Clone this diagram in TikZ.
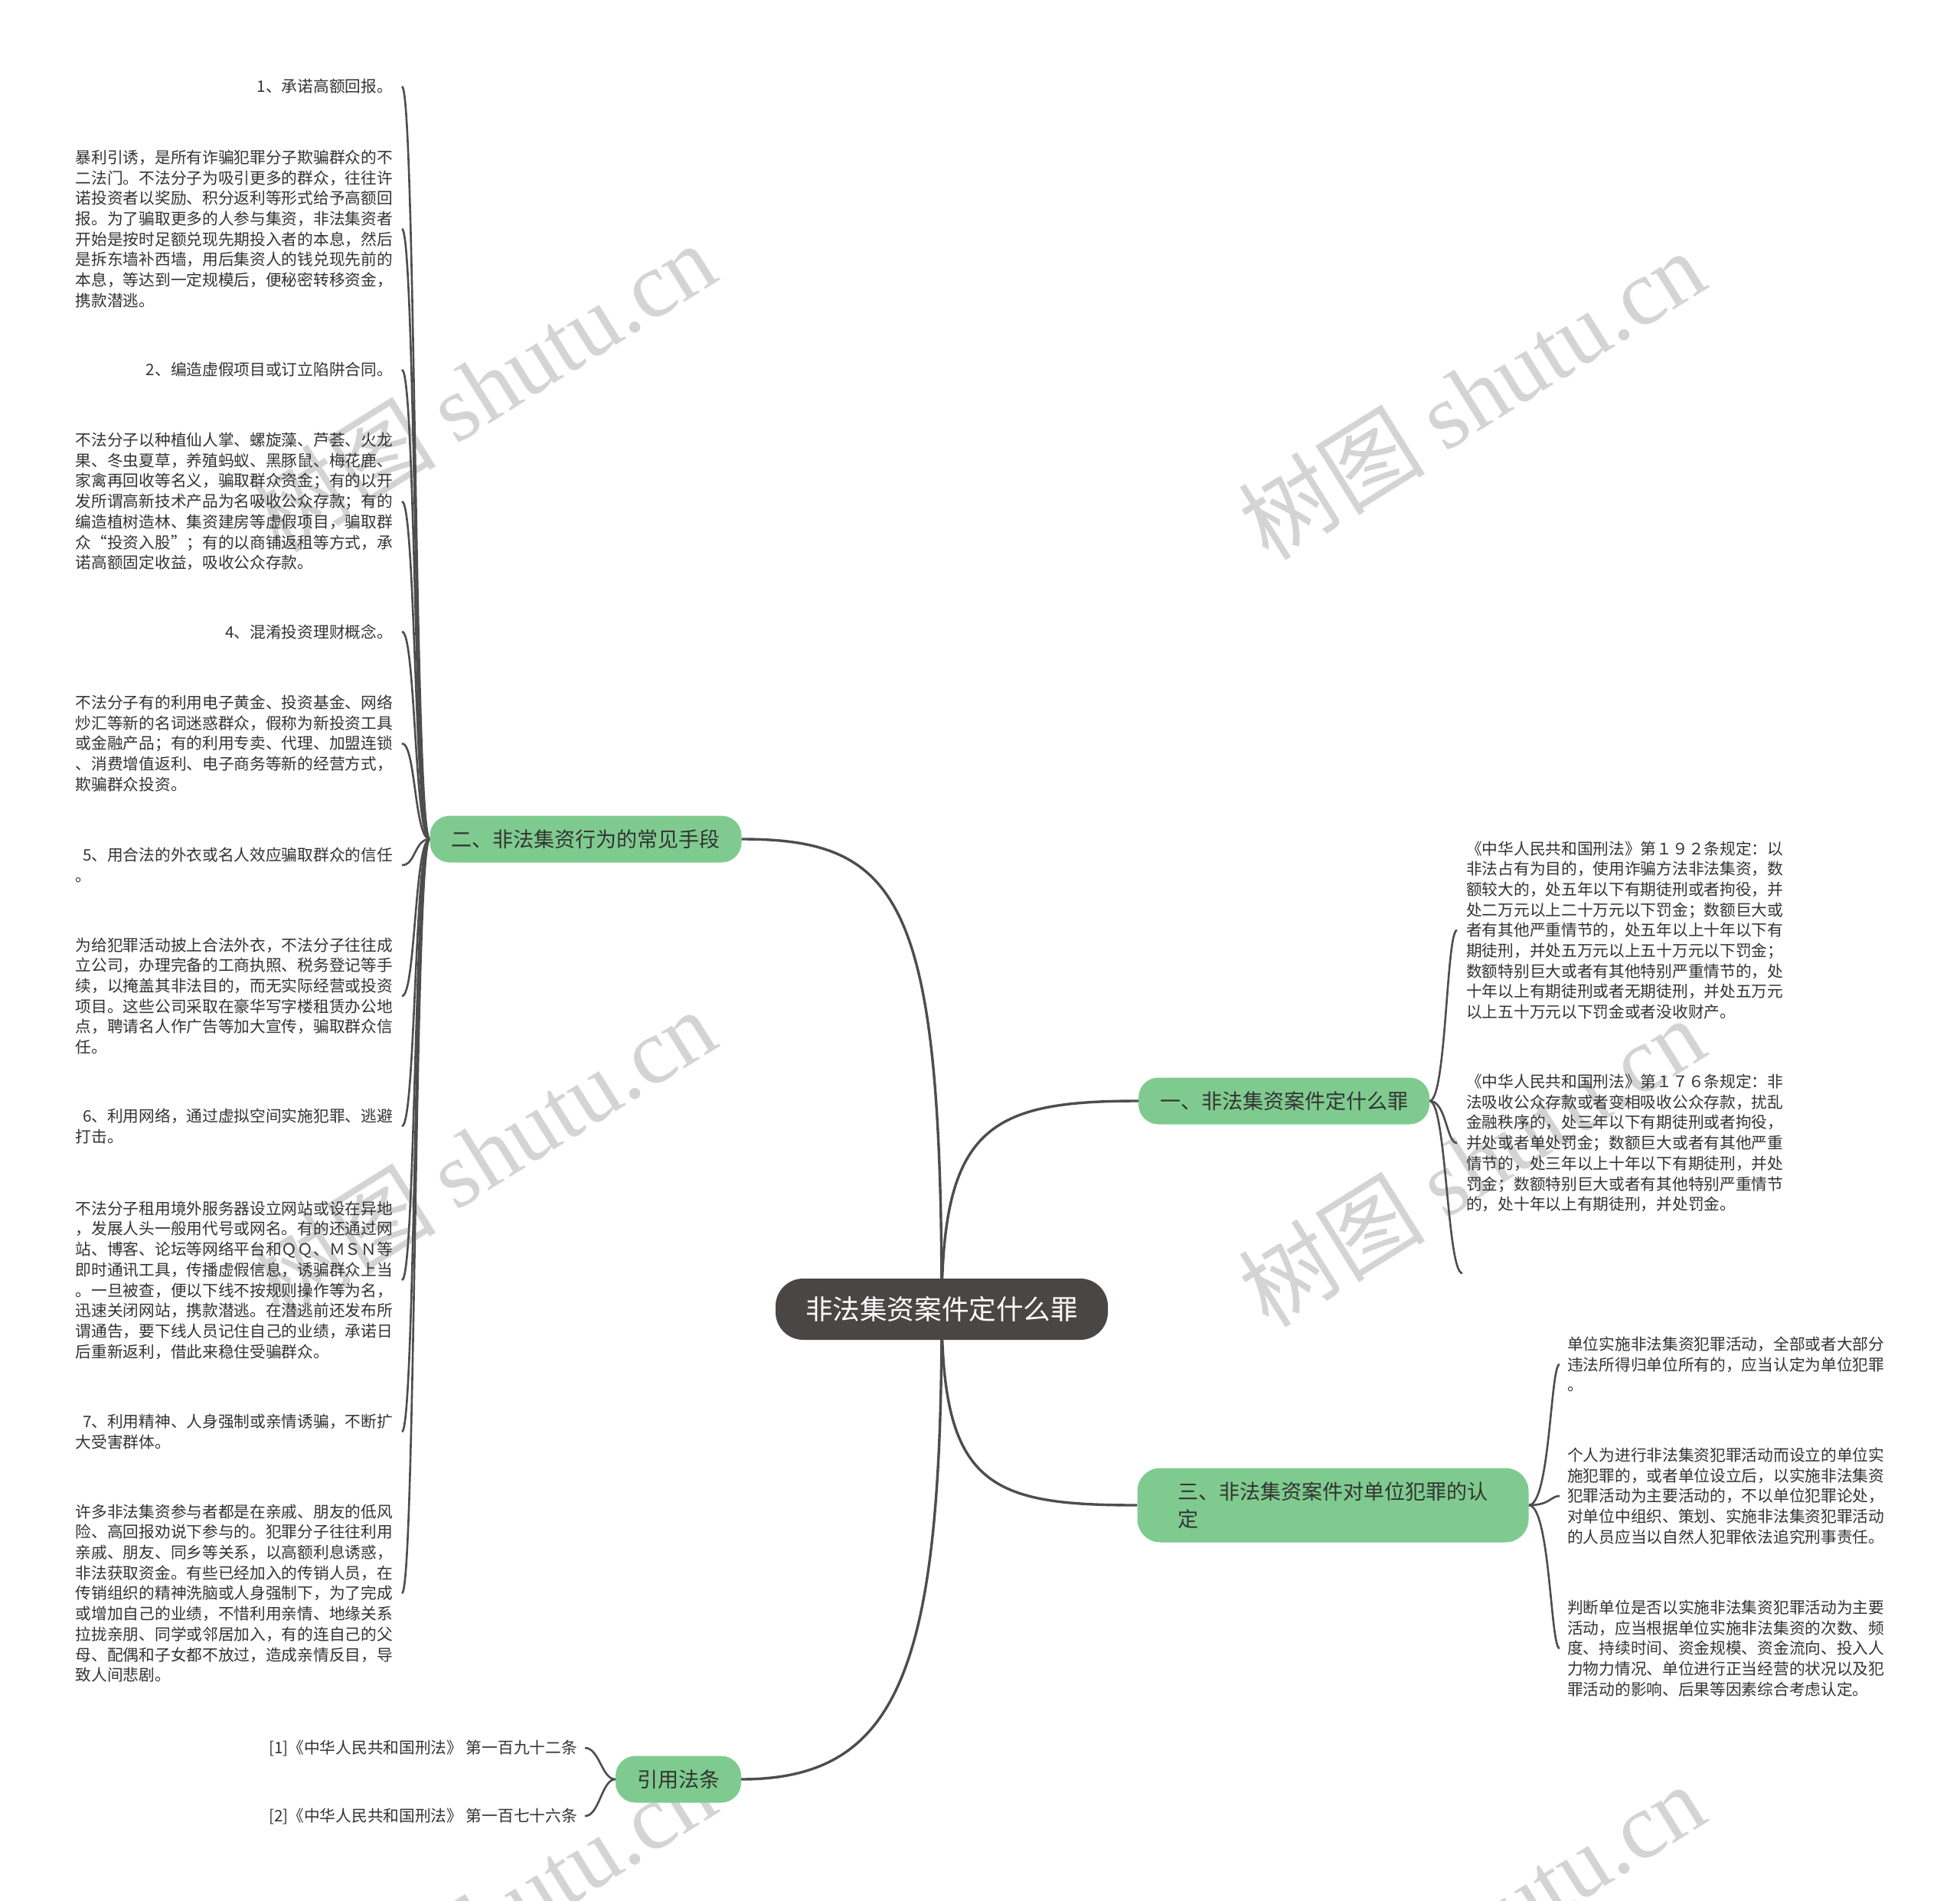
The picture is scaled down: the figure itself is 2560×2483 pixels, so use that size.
\documentclass[tikz,border=0pt]{standalone}
\usepackage{fontspec}
\setmainfont{Noto Sans CJK SC}
\newfontfamily\wmserif{Liberation Serif}
\definecolor{mmgreen}{HTML}{7FCB8F}
\definecolor{mmdark}{HTML}{4A4646}
\definecolor{mmline}{HTML}{4D4D4D}
\definecolor{mmtext}{HTML}{333333}
\definecolor{mmwm}{HTML}{D4D4D4}
\pgfdeclarelayer{wm}
\pgfdeclarelayer{bg}
\pgfsetlayers{wm,bg,main}
\begin{document}
\begin{tikzpicture}[x=1pt,y=-1pt,
  leaffont/.style={font=\fontsize{20.7}{26.7}\selectfont},
  leaf/.style={leaffont, text=mmtext, inner xsep=12pt, inner ysep=0pt, align=left},
  lleaf/.style={leaf, anchor=east},
  rleaf/.style={leaf, anchor=west},
  rootnode/.style={fill=mmdark, text=white, rounded corners=36pt, minimum height=80pt, inner xsep=39pt, inner ysep=0pt, font=\fontsize{35.6}{40}\selectfont},
  branchnode/.style={fill=mmgreen, text=mmtext, rounded corners=26pt, minimum height=61pt, inner xsep=28pt, inner ysep=0pt, font=\fontsize{27}{36}\selectfont},
  mainline/.style={draw=mmline, line width=3.4pt},
  leafline/.style={draw=mmline, line width=2.6pt},
  wmark/.style={rotate=32, text=mmwm, font=\fontsize{122}{122}\selectfont, inner sep=0pt}
]
\useasboundingbox (0,0) rectangle (2560,2483);

% background and watermarks
\begin{pgfonlayer}{wm}
\fill[white] (0,0) rectangle (2560,2483);
\begin{scope}
\clip (0,0) rectangle (2560,2483);
\foreach \wx/\wy [count=\i] in {630/505, 1922/515, 630/1506, 1922/1517, 630/2506, 1922/2518}
  \node[wmark] (wm\i) at (\wx,\wy) {树图 {\wmserif shutu.cn}};
\end{scope}
\end{pgfonlayer}

% main nodes
\node[rootnode] (root) at (1230,1710) {非法集资案件定什么罪};
\node[branchnode] (b2) at (765,1096) {二、非法集资行为的常见手段};
\node[branchnode] (b1) at (1677,1438) {一、非法集资案件定什么罪};
\node[branchnode, align=left, inner xsep=53pt, minimum height=97pt, rounded corners=30pt] (b3) at (1741,1966) {三、非法集资案件对单位犯罪的认\\定};
\node[branchnode] (b4) at (886,2324) {引用法条};

% left leaves
\node[lleaf] (l1) at (525,113) {1、承诺高额回报。};
\node[lleaf] (l2) at (525,299) {暴利引诱，是所有诈骗犯罪分子欺骗群众的不\\二法门。不法分子为吸引更多的群众，往往许\\诺投资者以奖励、积分返利等形式给予高额回\\报。为了骗取更多的人参与集资，非法集资者\\开始是按时足额兑现先期投入者的本息，然后\\是拆东墙补西墙，用后集资人的钱兑现先前的\\本息，等达到一定规模后，便秘密转移资金，\\携款潜逃。};
\node[lleaf] (l3) at (525,483) {2、编造虚假项目或订立陷阱合同。};
\node[lleaf] (l4) at (525,655) {不法分子以种植仙人掌、螺旋藻、芦荟、火龙\\果、冬虫夏草，养殖蚂蚁、黑豚鼠、梅花鹿、\\家禽再回收等名义，骗取群众资金；有的以开\\发所谓高新技术产品为名吸收公众存款；有的\\编造植树造林、集资建房等虚假项目，骗取群\\众“投资入股”；有的以商铺返租等方式，承\\诺高额固定收益，吸收公众存款。};
\node[lleaf] (l5) at (525,825) {4、混淆投资理财概念。};
\node[lleaf] (l6) at (525,971) {不法分子有的利用电子黄金、投资基金、网络\\炒汇等新的名词迷惑群众，假称为新投资工具\\或金融产品；有的利用专卖、代理、加盟连锁\\、消费增值返利、电子商务等新的经营方式，\\欺骗群众投资。};
\node[lleaf] (l7) at (525,1130) {\makebox[414pt][r]{5、用合法的外衣或名人效应骗取群众的信任}\\。};
\node[lleaf] (l8) at (525,1301) {为给犯罪活动披上合法外衣，不法分子往往成\\立公司，办理完备的工商执照、税务登记等手\\续，以掩盖其非法目的，而无实际经营或投资\\项目。这些公司采取在豪华写字楼租赁办公地\\点，聘请名人作广告等加大宣传，骗取群众信\\任。};
\node[lleaf] (l9) at (525,1471) {\makebox[414pt][r]{6、利用网络，通过虚拟空间实施犯罪、逃避}\\打击。};
\node[lleaf] (l10) at (525,1672) {不法分子租用境外服务器设立网站或设在异地\\，发展人头一般用代号或网名。有的还通过网\\站、博客、论坛等网络平台和ＱＱ、ＭＳＮ等\\即时通讯工具，传播虚假信息，诱骗群众上当\\。一旦被查，便以下线不按规则操作等为名，\\迅速关闭网站，携款潜逃。在潜逃前还发布所\\谓通告，要下线人员记住自己的业绩，承诺日\\后重新返利，借此来稳住受骗群众。};
\node[lleaf] (l11) at (525,1870) {\makebox[414pt][r]{7、利用精神、人身强制或亲情诱骗，不断扩}\\大受害群体。};
\node[lleaf] (l12) at (525,2081) {许多非法集资参与者都是在亲戚、朋友的低风\\险、高回报劝说下参与的。犯罪分子往往利用\\亲戚、朋友、同乡等关系，以高额利息诱惑，\\非法获取资金。有些已经加入的传销人员，在\\传销组织的精神洗脑或人身强制下，为了完成\\或增加自己的业绩，不惜利用亲情、地缘关系\\拉拢亲朋、同学或邻居加入，有的连自己的父\\母、配偶和子女都不放过，造成亲情反目，导\\致人间悲剧。};

% right top leaves
\node[rleaf] (r1) at (1903,1215) {《中华人民共和国刑法》第１９２条规定：以\\非法占有为目的，使用诈骗方法非法集资，数\\额较大的，处五年以下有期徒刑或者拘役，并\\处二万元以上二十万元以下罚金；数额巨大或\\者有其他严重情节的，处五年以上十年以下有\\期徒刑，并处五万元以上五十万元以下罚金；\\数额特别巨大或者有其他特别严重情节的，处\\十年以上有期徒刑或者无期徒刑，并处五万元\\以上五十万元以下罚金或者没收财产。};
\node[rleaf] (r2) at (1903,1493) {《中华人民共和国刑法》第１７６条规定：非\\法吸收公众存款或者变相吸收公众存款，扰乱\\金融秩序的，处三年以下有期徒刑或者拘役，\\并处或者单处罚金；数额巨大或者有其他严重\\情节的，处三年以上十年以下有期徒刑，并处\\罚金；数额特别巨大或者有其他特别严重情节\\的，处十年以上有期徒刑，并处罚金。};
\coordinate (r3) at (1910,1663);

% right bottom leaves
\node[rleaf, inner xsep=10pt] (s1) at (2037,1782) {单位实施非法集资犯罪活动，全部或者大部分\\违法所得归单位所有的，应当认定为单位犯罪\\。};
\node[rleaf, inner xsep=10pt] (s2) at (2037,1954) {个人为进行非法集资犯罪活动而设立的单位实\\施犯罪的，或者单位设立后，以实施非法集资\\犯罪活动为主要活动的，不以单位犯罪论处，\\对单位中组织、策划、实施非法集资犯罪活动\\的人员应当以自然人犯罪依法追究刑事责任。};
\node[rleaf, inner xsep=10pt] (s3) at (2037,2153) {判断单位是否以实施非法集资犯罪活动为主要\\活动，应当根据单位实施非法集资的次数、频\\度、持续时间、资金规模、资金流向、投入人\\力物力情况、单位进行正当经营的状况以及犯\\罪活动的影响、后果等因素综合考虑认定。};

% bottom leaves
\node[lleaf, inner xsep=10pt] (c1) at (764,2283) {[1]《中华人民共和国刑法》 第一百九十二条};
\node[lleaf, inner xsep=10pt] (c2) at (764,2372) {[2]《中华人民共和国刑法》 第一百七十六条};

% connectors
\begin{pgfonlayer}{bg}
\draw[mainline] (root.center) .. controls (1230,1177) and (1177,1096) .. (b2.east);
\draw[mainline] (root.center) .. controls (1230,1472) and (1292,1438) .. (b1.west);
\draw[mainline] (root.center) .. controls (1230,1941) and (1292,1966) .. (b3.west);
\draw[mainline] (root.center) .. controls (1230,2175) and (1177,2324) .. (b4.east);
\foreach \n in {l1,l2,l3,l4,l5,l6,l7,l8,l9,l10,l11,l12}
  \draw[leafline] (b2.west) .. controls +(-20,0) and +(18,0) .. (\n.east);
\foreach \n in {r1,r2}
  \draw[leafline] (b1.east) .. controls +(22,0) and +(-14,0) .. (\n.west);
\draw[leafline] (b1.east) .. controls +(22,0) and +(-20,0) .. (r3);
\foreach \n in {s1,s2,s3}
  \draw[leafline] (b3.east) .. controls +(28,0) and +(-12,0) .. (\n.west);
\foreach \n in {c1,c2}
  \draw[leafline] (b4.west) .. controls +(-18,0) and +(19,0) .. (\n.east);
\end{pgfonlayer}
\end{tikzpicture}
\end{document}
